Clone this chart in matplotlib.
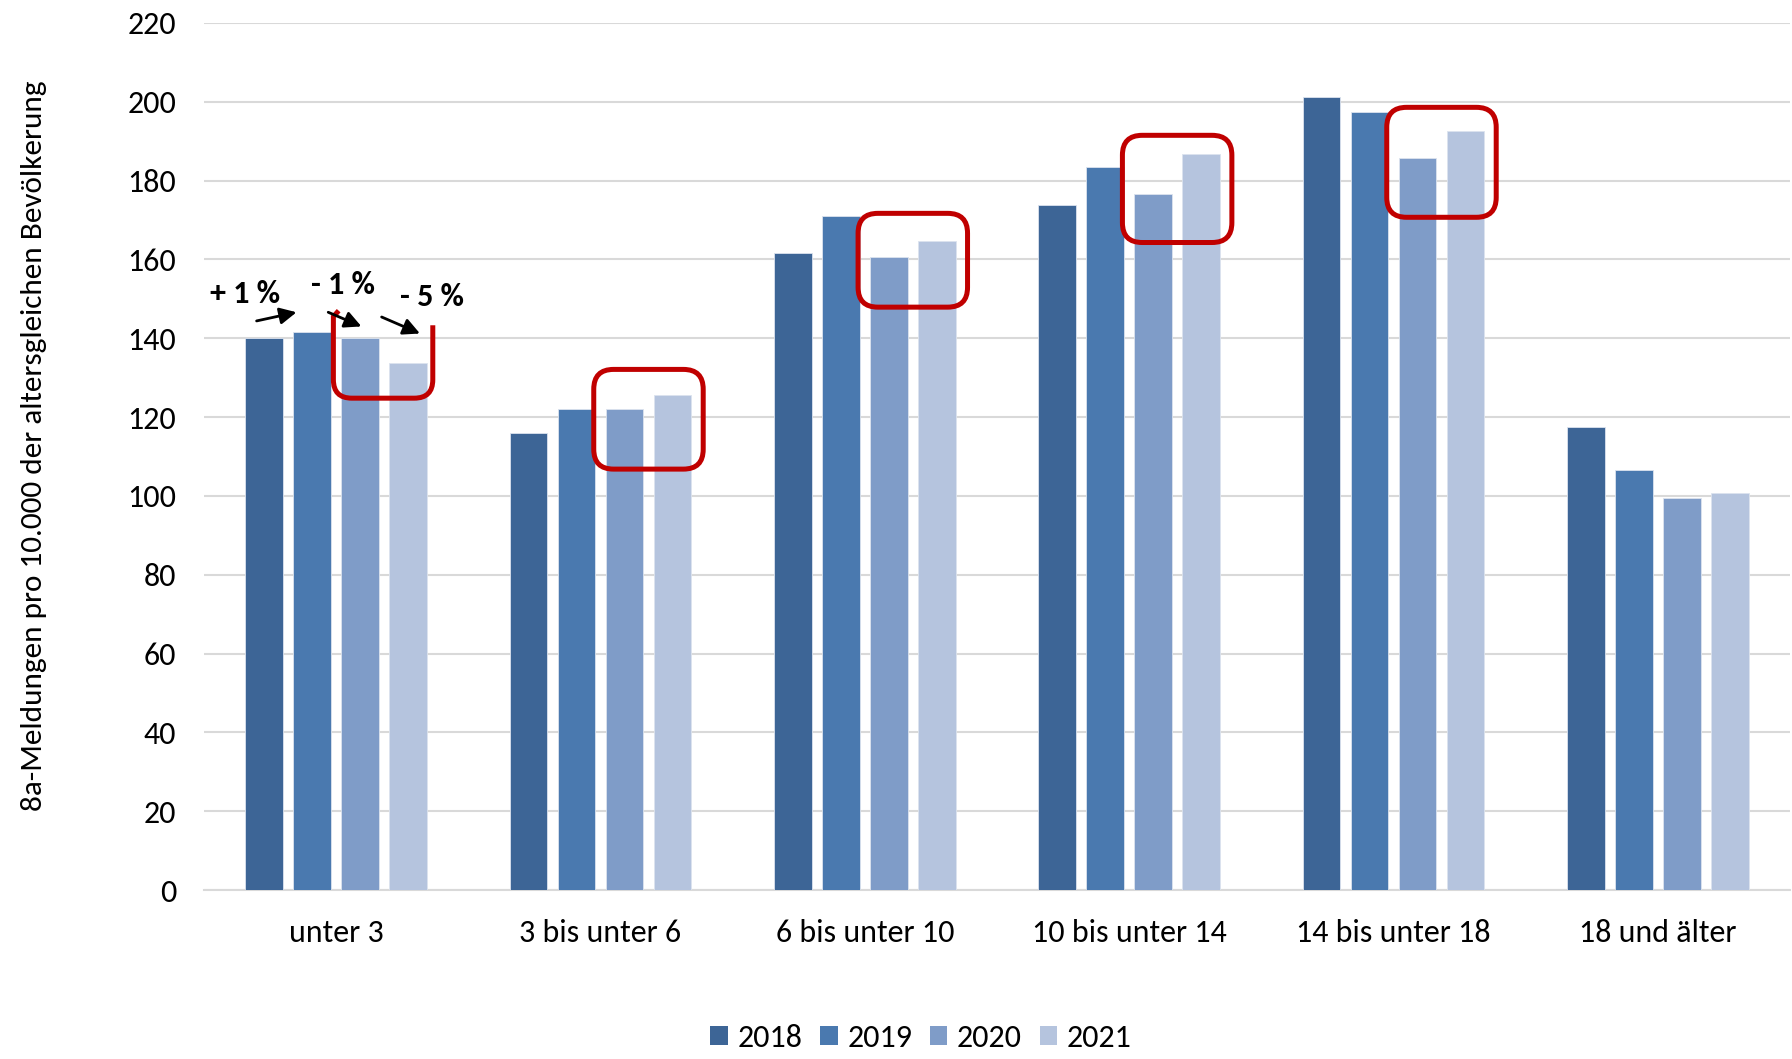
import matplotlib
matplotlib.use("Agg")
import matplotlib.pyplot as plt
import numpy as np
from matplotlib.patches import FancyBboxPatch, PathPatch
from matplotlib.path import Path

categories = ["unter 3", "3 bis unter 6", "6 bis unter 10", "10 bis unter 14", "14 bis unter 18", "18 und älter"]
years = ["2018", "2019", "2020", "2021"]
v2018 = [140.0, 116.0, 161.7, 173.7, 201.2, 117.6]
v2019 = [141.5, 122.0, 171.0, 183.4, 197.5, 106.7]
v2020 = [140.0, 122.0, 160.5, 176.7, 185.7, 99.5]
v2021 = [133.7, 125.6, 164.8, 186.8, 192.6, 100.8]
series = [v2018, v2019, v2020, v2021]
colors = ["#3D6596", "#4A79AF", "#7F9CC8", "#B5C4DE"]

yticks = list(range(0, 221, 20))

# annotation texts
pct_labels = ["+ 1 %", "- 1 %", "- 5 %"]

plt.rcParams['font.family'] = ['Carlito', 'Lato', 'DejaVu Sans']

fig = plt.figure(figsize=(17.92, 10.59), dpi=100)
ax = fig.add_axes([204/1792, 1 - 890/1059, (1790-204)/1792, (890-23)/1059])

pitch = 0.1815
bw = 0.1426
x = np.arange(len(categories))
for i, (vals, col, yr) in enumerate(zip(series, colors, years)):
    ax.bar(x + (i - 1.5) * pitch, vals, width=bw, color=col, label=yr,
           edgecolor="#DCE3EE", linewidth=0.6, zorder=3)

ax.set_xlim(-0.5, 5.5)
ax.set_ylim(0, 220)
ax.set_yticks(yticks)
ax.set_xticks(x)
ax.set_xticklabels(categories)
ax.grid(axis="y", color="#D9D9D9", linewidth=1.5, zorder=0)
ax.set_axisbelow(True)
for s in ["top", "right", "left"]:
    ax.spines[s].set_visible(False)
ax.spines["bottom"].set_color("#D9D9D9")
ax.spines["bottom"].set_linewidth(1.5)
ax.tick_params(axis="both", length=0, labelsize=23, colors="#000000")
ax.tick_params(axis="y", pad=20)
ax.tick_params(axis="x", pad=21)

fig.text(34/1792, 1 - 446/1059, "8a-Meldungen pro 10.000 der altersgleichen Bevölkerung",
         rotation=90, ha="center", va="center", fontsize=22.5)

# red rounded boxes around 2020/2021 bars (group index, ymin, ymax)
red = "#C00000"
boxes = [(1, 106.8, 132.1), (2, 147.9, 171.7), (3, 164.3, 191.5), (4, 170.7, 198.6)]
aspect = (220 / 867) / (6 / 1586)
for gi, y0, y1 in boxes:
    xl = gi + 0.5 * pitch - bw / 2 - 0.045
    xr = gi + 1.5 * pitch + bw / 2 + 0.045
    p = FancyBboxPatch((xl, y0), xr - xl, y1 - y0,
                       boxstyle="round,pad=0,rounding_size=0.075",
                       mutation_aspect=aspect, fill=False, edgecolor=red,
                       linewidth=3.6, zorder=5, clip_on=False)
    ax.add_patch(p)

# U-shaped bracket for first group
xl = 0 + 0.5 * pitch - bw / 2 - 0.03
xr = 0 + 1.5 * pitch + bw / 2 + 0.022
yb = 124.8
rx = 0.07
ry = rx * aspect
verts = [(xl + 0.02, 147.0), (xl, 145.5), (xl, yb + ry), (xl, yb), (xl + rx, yb),
         (xr - rx, yb), (xr, yb), (xr, yb + ry), (xr, 143.3)]
codes = [Path.MOVETO, Path.LINETO, Path.LINETO, Path.CURVE3, Path.CURVE3,
         Path.LINETO, Path.CURVE3, Path.CURVE3, Path.LINETO]
ax.add_patch(PathPatch(Path(verts, codes), fill=False, edgecolor=red,
                       linewidth=3.6, zorder=5, capstyle="butt"))

# arrows and percentage labels
arrows = [((-0.301, 144.4), (-0.150, 146.6)),
          ((-0.030, 146.6), (0.0955, 143.0)),
          ((0.172, 145.4), (0.317, 141.2))]
for (a, b) in arrows:
    ax.annotate("", xy=b, xytext=a,
                arrowprops=dict(arrowstyle="-|>,head_length=1.0,head_width=0.5",
                                color="black", lw=2.0, shrinkA=0, shrinkB=0),
                zorder=6)
text_pos = [(-0.345, 151.3), (0.027, 153.4), (0.361, 150.5)]
for (tx, ty), t in zip(text_pos, pct_labels):
    ax.text(tx, ty, t, ha="center", va="center", fontsize=23, fontweight="bold", zorder=6)

leg = fig.legend(loc="center", bbox_to_anchor=(921/1792, 1 - 1038/1059), ncol=4,
                 frameon=False, fontsize=23, handlelength=0.55, handleheight=0.55,
                 handletextpad=0.3, columnspacing=0.55)
for h in leg.legend_handles:
    h.set_edgecolor("none")

fig.savefig("out.png", dpi=100)
